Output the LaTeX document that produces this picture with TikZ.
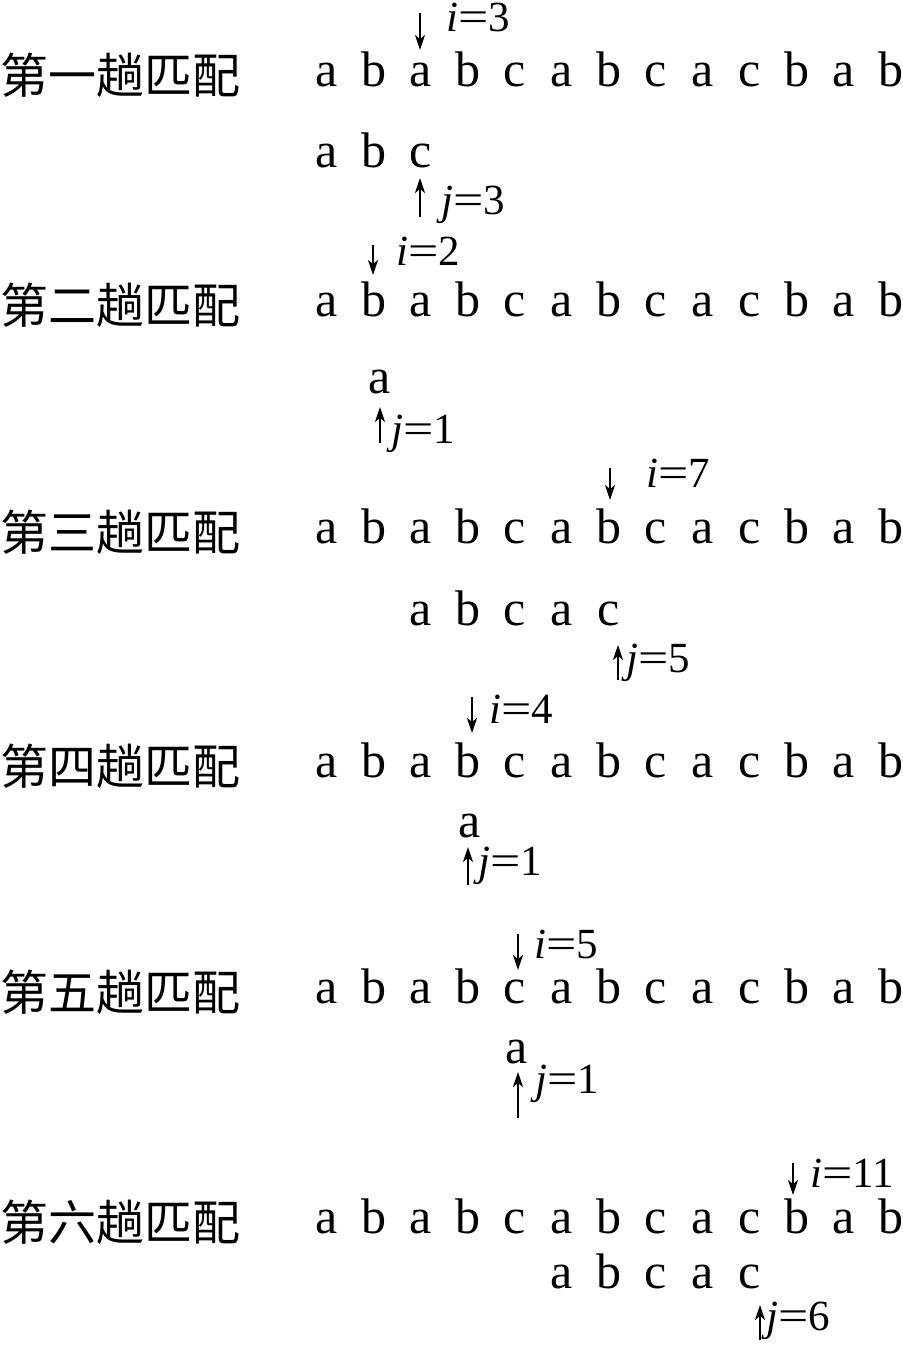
\documentclass[tikz,border=0pt]{standalone}
\usepackage{fontspec}
\usepackage{graphicx}
\setmainfont{Liberation Serif}
\newfontfamily\cjk{Noto Sans CJK SC}
\usetikzlibrary{arrows.meta}
\tikzset{
  ltr/.style={font=\fontsize{50}{60}\selectfont, inner sep=0pt, anchor=base},
  cjklbl/.style={font=\cjk\fontsize{48}{56}\selectfont, inner sep=0pt, anchor=base west},
  ptr/.style={font=\fontsize{43}{50}\selectfont, inner sep=0pt, anchor=base west},
  arr/.style={line width=2pt, -{Stealth[length=15pt,width=10pt,inset=4pt]}},
}
\newcommand{\ptlbl}[2]{\textit{#1}\scalebox{1.25}[1]{=}#2}
\begin{document}
\begin{tikzpicture}[x=1pt,y=-1pt]
\useasboundingbox (0,0) rectangle (902,1346);
\def\mystr{a,b,a,b,c,a,b,c,a,c,b,a,b}
% main strings with row titles
\foreach \r/\yb/\cn in {1/86/一,2/316/二,3/543/三,4/777/四,5/1003/五,6/1233/六}{
  \node[cjklbl] (t\r) at (0,\yb+7) {第\cn 趟匹配};
  \foreach \c [count=\k] in \mystr {
    \node[ltr] (s\r-\k) at ({327+47*(\k-1)},\yb) {\c};
  }
}
% patterns
\foreach \c [count=\k] in {a,b,c} \node[ltr] (p1-\k) at ({327+47*(\k-1)},167) {\c};
\node[ltr] (p2-1) at (380,393) {a};
\foreach \c [count=\k] in {a,b,c,a,c} \node[ltr] (p3-\k) at ({327+47*(\k+1)},625) {\c};
\node[ltr] (p4-1) at (470,837) {a};
\node[ltr] (p5-1) at (517,1063) {a};
\foreach \c [count=\k] in {a,b,c,a,c} \node[ltr] (p6-\k) at ({327+47*(\k+4)},1288) {\c};
% i pointers
\foreach \r/\ax/\ya/\yb/\lx/\ly/\v in {1/420/13/50/446/32/3, 2/373/245/275/396/265/2, 3/610/468/500/646/487/7, 4/472/697/733/489/723/4, 5/518/934/970/534/958/5, 6/793/1163/1195/810/1187/11}{
  \node[ptr] (li\r) at (\lx,\ly) {\ptlbl{i}{\v}};
  \coordinate (ia\r) at (\ax,\ya);
  \coordinate (ib\r) at (\ax,\yb);
  \draw[arr] (ia\r) -- (ib\r);
}
% j pointers
\foreach \r/\ax/\ya/\yb/\lx/\ly/\v in {1/420/217/178/441/214/3, 2/380/443/407/391/443/1, 3/618/680/645/626/672/5, 4/468/885/847/478/875/1, 5/518/1118/1072/535/1093/1, 6/760/1340/1305/766/1330/6}{
  \node[ptr] (lj\r) at (\lx,\ly) {\ptlbl{j}{\v}};
  \coordinate (ja\r) at (\ax,\ya);
  \coordinate (jb\r) at (\ax,\yb);
  \draw[arr] (ja\r) -- (jb\r);
}
\end{tikzpicture}
\end{document}
